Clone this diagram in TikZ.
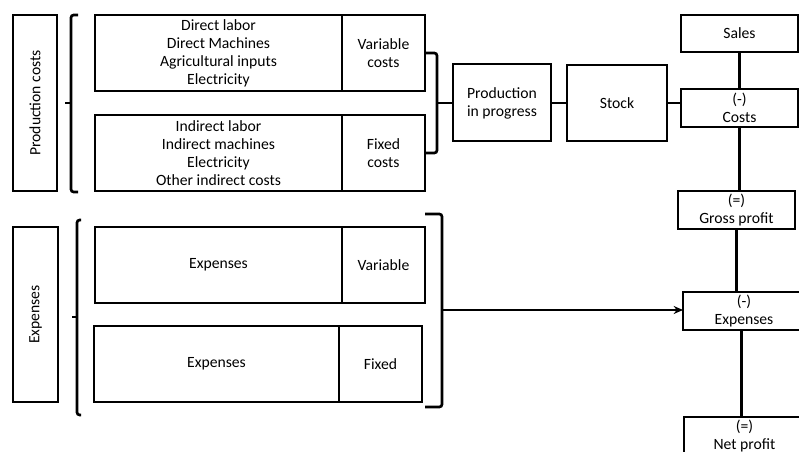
\documentclass[tikz,border=0pt]{standalone}
\usepackage{fontspec}
\setmainfont{Carlito}
\usetikzlibrary{arrows.meta}

\begin{document}
\begin{tikzpicture}[x=0.75pt,y=-0.75pt,
  box/.style={draw, line width=1.5pt, align=center, inner sep=0pt, outer sep=0pt,
    font=\fontsize{11.75}{13.5}\selectfont},
  link/.style={line width=2pt},
  brace/.style={line width=2pt, rounded corners=2pt}]
\useasboundingbox (0,0) rectangle (799,452);
\clip (0,0) rectangle (799,452);

% Production costs
\node[box, rotate=90, minimum width=132pt, minimum height=33pt] (prodlbl) at (35,103) {Production costs};
\node[box, minimum width=185.25pt, minimum height=57pt] (direct) at (218.5,53) {Direct labor\\Direct Machines\\Agricultural inputs\\Electricity};
\node[box, minimum width=62.25pt, minimum height=57pt, anchor=west] (varcost) at (direct.east) {Variable\\costs};
\node[box, minimum width=185.25pt, minimum height=57pt] (indirect) at (218.5,153) {Indirect labor\\Indirect machines\\Electricity\\Other indirect costs};
\node[box, minimum width=62.25pt, minimum height=57pt, anchor=west] (fixcost) at (indirect.east) {Fixed\\costs};

% Brackets around production costs
\draw[brace] (78,15) -- (71,15) -- (71,192) -- (78,192);
\draw[brace] (71,103) -- (65,103);
\draw[brace] (varcost.east) -- ++(12,0) |- (fixcost.east);
\coordinate (pcbr) at (437,103);

% Production chain
\node[box, minimum width=73.5pt, minimum height=57.75pt] (prog) at (502,103) {Production\\in progress};
\node[box, minimum width=75pt, minimum height=57pt] (stock) at (617,103) {Stock};
\draw[link] (pcbr) -- (prog.west);
\draw[link] (prog) -- (stock);

% Income statement
\node[box, minimum width=87.75pt, minimum height=27.75pt] (sales) at (739.5,33.5) {Sales};
\node[box, minimum width=87.75pt, minimum height=28.5pt] (costs) at (739.5,108) {(-)\\Costs};
\node[box, minimum width=87.75pt, minimum height=28.5pt] (gross) at (736.5,210) {(=)\\Gross profit};
\node[box, minimum width=91.5pt, minimum height=28.5pt] (expr) at (744,311) {(-)\\Expenses};
\node[box, minimum width=91.5pt, minimum height=28.5pt] (net) at (744.5,436) {(=)\\Net profit};
\draw[link] (stock.east) -- (stock.east -| costs.west);
\draw[link] (sales.south) -- (sales.south |- costs.north);
\draw[link] (costs.south) -- (costs.south |- gross.north);
\draw[link] (gross.south) -- (gross.south |- expr.north);
\draw[link] ([xshift=-2pt]expr.south) -- ([xshift=-2pt]expr.south |- net.north);

% Expenses
\node[box, rotate=90, minimum width=131.25pt, minimum height=33.75pt] (explbl) at (35.5,314.5) {Expenses};
\node[box, minimum width=185.25pt, minimum height=57pt] (expvar) at (218.5,265) {Expenses};
\node[box, minimum width=62.25pt, minimum height=57pt, anchor=west] (varlbl) at (expvar.east) {Variable};
\node[box, minimum width=183.75pt, minimum height=57pt] (expfix) at (216.5,364) {Expenses};
\node[box, minimum width=62.25pt, minimum height=57pt, anchor=west] (fixlbl) at (expfix.east) {Fixed};

% Brackets around expenses
\draw[brace] (81,220) -- (77,220) -- (77,415) -- (81,415);
\draw[brace] (77,317) -- (72,317);
\draw[brace] (425,214) -- (442,214) -- (442,407) -- (425,407);
\coordinate (exbr) at (442,310);
\draw[link, -{Stealth[length=7pt,width=6pt]}] (exbr) -- (exbr -| expr.west);
\end{tikzpicture}
\end{document}
